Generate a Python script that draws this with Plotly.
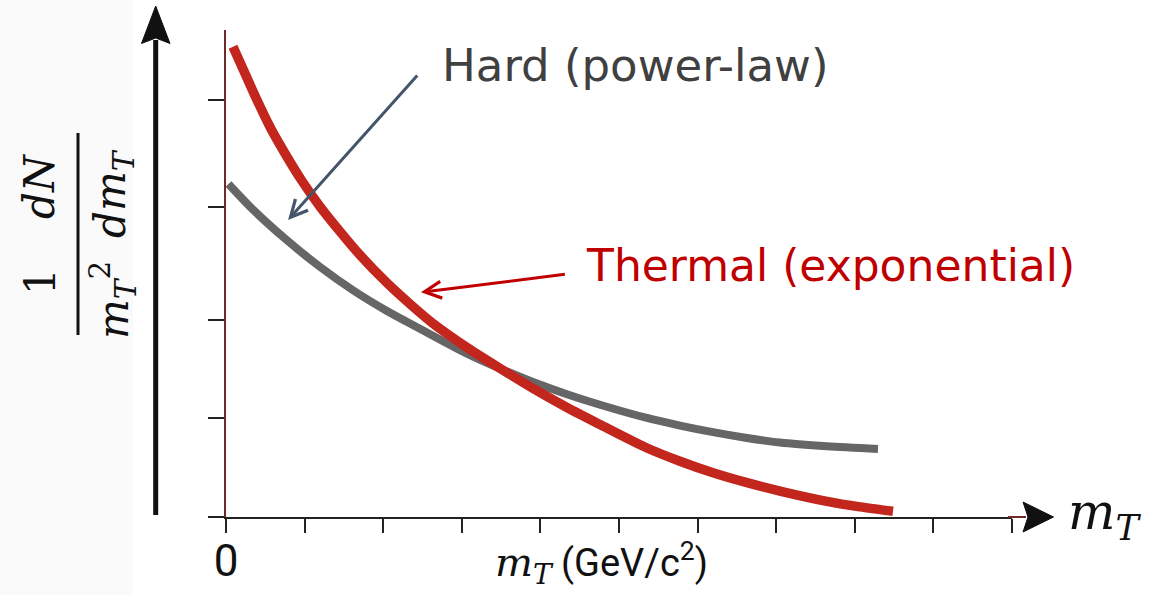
import plotly.graph_objects as go

# ---------------- data ----------------
# x in units of the x tick spacing (0 .. 10), y in units of the y tick spacing
thermal_x = [0.089, 0.242, 0.394, 0.560, 0.751, 0.967, 1.196, 1.450, 1.705, 2.048, 2.341, 2.634,
             3.066, 3.448, 3.906, 4.338, 4.758, 5.356, 5.776, 6.196, 6.628, 7.048, 7.646,
             8.066, 8.486]
thermal_y = [4.511, 4.254, 4.000, 3.741, 3.487, 3.223, 2.978, 2.739, 2.513, 2.245, 2.043, 1.856,
             1.626, 1.444, 1.233, 1.050, 0.887, 0.662, 0.535, 0.424, 0.329, 0.249, 0.150,
             0.097, 0.055]

hard_x = [0.032, 0.344, 0.776, 1.196, 1.616, 2.048, 2.468, 3.066, 3.486, 3.906, 4.338, 4.758,
          5.356, 5.776, 6.196, 6.628, 7.048, 7.646, 8.295]
hard_y = [3.194, 2.948, 2.654, 2.399, 2.175, 1.976, 1.806, 1.567, 1.424, 1.295, 1.178, 1.077,
          0.950, 0.877, 0.814, 0.758, 0.714, 0.678, 0.652]

x_tick_vals = [0, 1, 2, 3, 4, 5, 6, 7, 8, 9, 10]
x_tick_text = ["0", "", "", "", "", "", "", "", "", "", ""]
y_tick_vals = [0, 0.95, 1.89, 2.97, 4.0]

label_hard = "Hard (power-law)"
label_thermal = "Thermal (exponential)"

# ---------------- layout geometry ----------------
FW, FH = 1173, 595
L, R, T, B = 226, 1012, 30, 517
W, H = R - L, B - T


def px(x):
    return (x - L) / W


def py(y):
    return (B - y) / H


RED = "#C3261D"
GRAY = "#666666"
SERIF = "DejaVu Serif"
SANS = "DejaVu Sans"
NARROW = "Liberation Sans Narrow, Roboto, DejaVu Sans"

fig = go.Figure()
fig.add_trace(go.Scatter(x=hard_x, y=hard_y, mode="lines",
                         line=dict(color=GRAY, width=8, shape="spline", smoothing=0.8),
                         name=label_hard, showlegend=False, hoverinfo="skip"))
fig.add_trace(go.Scatter(x=thermal_x, y=thermal_y, mode="lines",
                         line=dict(color=RED, width=9.5, shape="spline", smoothing=0.8),
                         name=label_thermal, showlegend=False, hoverinfo="skip"))

shapes = []
# left background strip (slightly grey in the reference)
shapes.append(dict(type="rect", xref="paper", yref="paper", x0=px(0), x1=px(133),
                   y0=py(FH), y1=py(0), fillcolor="#FAFAFA", line=dict(width=0), layer="below"))
# big vertical arrow
shapes.append(dict(type="line", xref="paper", yref="paper", x0=px(155.7), x1=px(155.7),
                   y0=py(515), y1=py(40), line=dict(color="#111111", width=5)))
shapes.append(dict(type="path", xref="paper", yref="paper",
                   path=f"M {px(155.7)},{py(6)} L {px(170)},{py(43.5)} L {px(155.7)},{py(38)} "
                        f"L {px(141.5)},{py(43.5)} Z",
                   fillcolor="#111111", line=dict(color="#111111", width=1)))
# x-axis arrow extension and head
shapes.append(dict(type="line", xref="paper", yref="paper", x0=px(1008), x1=px(1026),
                   y0=py(517), y1=py(517), line=dict(color="#6E2B2B", width=2)))
shapes.append(dict(type="path", xref="paper", yref="paper",
                   path=f"M {px(1053.5)},{py(517)} L {px(1023)},{py(502)} L {px(1028)},{py(517)} "
                        f"L {px(1023)},{py(532)} Z",
                   fillcolor="#111111", line=dict(color="#111111", width=1)))
# fraction bar of the y label
shapes.append(dict(type="line", xref="paper", yref="paper", x0=px(78), x1=px(78),
                   y0=py(335), y1=py(133), line=dict(color="#111111", width=3)))

annotations = []
# arrows pointing at the curves
annotations.append(dict(x=0.79, y=2.85, ax=2.45, ay=4.25, xref="x", yref="y", axref="x", ayref="y",
                        text="", showarrow=True, arrowhead=5, arrowsize=1.1, arrowwidth=3,
                        arrowcolor="#44546A"))
annotations.append(dict(x=2.48, y=2.155, ax=4.33, ay=2.33, xref="x", yref="y", axref="x", ayref="y",
                        text="", showarrow=True, arrowhead=5, arrowsize=1.1, arrowwidth=3,
                        arrowcolor="#C00000"))
# labels
annotations.append(dict(x=px(440), y=py(65), xref="paper", yref="paper", text=label_hard,
                        showarrow=False, xanchor="left", yanchor="middle",
                        font=dict(family=SANS, size=45, color="#404040")))
annotations.append(dict(x=px(584), y=py(265), xref="paper", yref="paper", text=label_thermal,
                        showarrow=False, xanchor="left", yanchor="middle",
                        font=dict(family=SANS, size=44, color="#C00000")))
# right axis name
annotations.append(dict(x=px(1066), y=py(515), xref="paper", yref="paper",
                        text="<i>m</i><sub><i>T</i></sub>", showarrow=False,
                        xanchor="left", yanchor="middle",
                        font=dict(family=SERIF, size=50, color="#111111")))
# x-axis title
annotations.append(dict(x=px(601), y=py(563), xref="paper", yref="paper",
                        text=f'<span style="font-family:{SERIF};font-size:40px"><i>m</i><sub><i>T</i></sub></span>'
                             ' (GeV/c<sup>2</sup>)',
                        showarrow=False, xanchor="center", yanchor="middle",
                        font=dict(family=NARROW, size=38, color="#111111")))
# y label as a rotated fraction
annotations.append(dict(x=px(40), y=py(282), xref="paper", yref="paper", text="1",
                        textangle=-90, showarrow=False, xanchor="center", yanchor="middle",
                        font=dict(family=SERIF, size=42, color="#111111")))
annotations.append(dict(x=px(40), y=py(187), xref="paper", yref="paper", text="<i>dN</i>",
                        textangle=-90, showarrow=False, xanchor="center", yanchor="middle",
                        font=dict(family=SERIF, size=42, color="#111111")))
annotations.append(dict(x=px(113), y=py(300), xref="paper", yref="paper",
                        text="<i>m</i><sub><i>T</i></sub><sup>2</sup>",
                        textangle=-90, showarrow=False, xanchor="center", yanchor="middle",
                        font=dict(family=SERIF, size=42, color="#111111")))
annotations.append(dict(x=px(113), y=py(194), xref="paper", yref="paper",
                        text="<i>dm</i><sub><i>T</i></sub>",
                        textangle=-90, showarrow=False, xanchor="center", yanchor="middle",
                        font=dict(family=SERIF, size=42, color="#111111")))

fig.update_layout(
    width=FW, height=FH, autosize=False,
    margin=dict(l=L, r=FW - R, t=T, b=FH - B, pad=0, autoexpand=False),
    paper_bgcolor="white", plot_bgcolor="white",
    showlegend=False,
    shapes=shapes, annotations=annotations,
    xaxis=dict(range=[0, 10], showgrid=False, zeroline=False, showline=True, automargin=False,
               linecolor="#222222", linewidth=2,
               tickmode="array", tickvals=x_tick_vals, ticktext=x_tick_text,
               ticks="outside", ticklen=14, tickwidth=2, tickcolor="#222222",
               tickfont=dict(family=NARROW, size=44, color="#111111"),
               ticklabelstandoff=-10, fixedrange=True),
    yaxis=dict(range=[0, H / 104.25], showgrid=False, zeroline=False, showline=True,
               automargin=False,
               linecolor="#6E2B2B", linewidth=2,
               tickmode="array", tickvals=y_tick_vals, ticktext=[""] * len(y_tick_vals),
               ticks="outside", ticklen=16, tickwidth=2, tickcolor="#222222",
               showticklabels=True, fixedrange=True),
)

fig.write_html("out.html", config={"displayModeBar": False, "responsive": False})
